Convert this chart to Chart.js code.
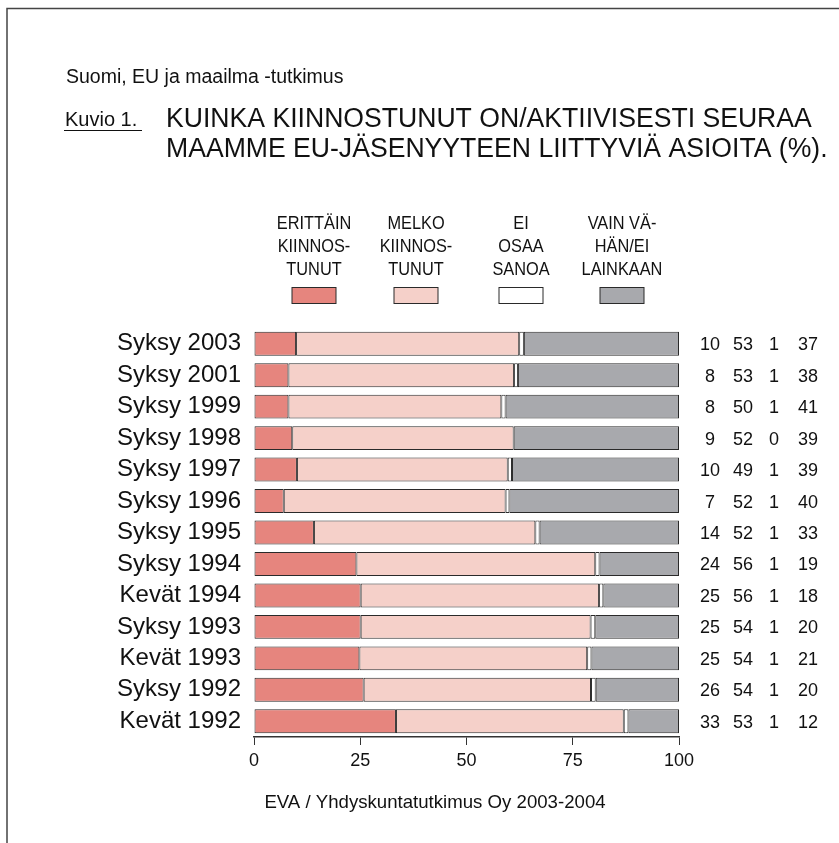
<!DOCTYPE html>
<html>
<head>
<meta charset="utf-8">
<script src="https://cdn.jsdelivr.net/npm/chart.js@4"></script>
<style>
  html, body { margin: 0; padding: 0; background: #fff; }
  canvas { display: block; }
</style>
</head>
<body>
<canvas id="ctx" width="839" height="843"></canvas>
<script>
// rivit ylhäältä alas
const categories = ['Syksy 2003', 'Syksy 2001', 'Syksy 1999', 'Syksy 1998', 'Syksy 1997', 'Syksy 1996',
  'Syksy 1995', 'Syksy 1994', 'Kevät 1994', 'Syksy 1993', 'Kevät 1993', 'Syksy 1992', 'Kevät 1992'];

// palkkien pituudet (luettu kuvasta, pyöristämättömät)
const veryInterested   = [9.9, 8.1, 8.1, 9.0, 10.1, 7.0, 14.1, 24.1, 25.1, 25.1, 24.8, 25.8, 33.4];
const fairlyInterested = [52.5, 53.1, 50.1, 52.1, 49.6, 52.2, 52.1, 56.2, 56.1, 54.1, 53.6, 53.5, 53.6];
const cantSay          = [1.1, 0.9, 1.0, 0.0, 1.0, 0.9, 1.0, 1.0, 1.0, 1.1, 1.0, 1.1, 1.1];
const littleOrNot      = [36.5, 37.9, 40.8, 38.9, 39.3, 39.9, 32.8, 18.7, 17.8, 19.7, 20.6, 19.6, 11.9];

// oikean reunan numerot
const printedVery   = [10, 8, 8, 9, 10, 7, 14, 24, 25, 25, 25, 26, 33];
const printedFairly = [53, 53, 50, 52, 49, 52, 52, 56, 56, 54, 54, 54, 53];
const printedCant   = [1, 1, 1, 0, 1, 1, 1, 1, 1, 1, 1, 1, 1];
const printedLittle = [37, 38, 41, 39, 39, 40, 33, 19, 18, 20, 21, 20, 12];

const xTicks = [0, 25, 50, 75, 100];

const legendLines = [
  ['ERITTÄIN', 'KIINNOS-', 'TUNUT'],
  ['MELKO', 'KIINNOS-', 'TUNUT'],
  ['EI', 'OSAA', 'SANOA'],
  ['VAIN VÄ-', 'HÄN/EI', 'LAINKAAN']
];

const subtitle = 'Suomi, EU ja maailma -tutkimus';
const figLabel = 'Kuvio 1.';
const titleLines = ['KUINKA KIINNOSTUNUT ON/AKTIIVISESTI SEURAA', 'MAAMME EU-JÄSENYYTEEN LIITTYVIÄ ASIOITA (%).'];
const source = 'EVA / Yhdyskuntatutkimus Oy 2003-2004';

const FONT = '"Liberation Sans", Arial, Helvetica, sans-serif';
const INK = '#111';
const EDGE = '#2a2a2a';

// teksti kavennettuna (sx < 1)
function drawText(c, text, x, y, size, align, sx) {
  c.save();
  c.translate(x, y);
  c.scale(sx || 1, 1);
  c.font = size + 'px ' + FONT;
  c.textAlign = align;
  c.textBaseline = 'alphabetic';
  c.fillStyle = INK;
  c.fillText(text, 0, 0);
  c.restore();
}

const decorations = {
  id: 'decorations',
  afterDraw(chart) {
    const c = chart.ctx;

    // kehys
    c.save();
    c.strokeStyle = '#444';
    c.lineWidth = 1.5;
    c.beginPath();
    c.moveTo(7, 843);
    c.lineTo(7, 8.5);
    c.lineTo(839, 8.5);
    c.stroke();
    c.restore();

    drawText(c, subtitle, 66, 83, 19.5, 'left', 1);

    drawText(c, figLabel, 65, 126, 20, 'left', 1);
    c.save();
    c.strokeStyle = INK;
    c.lineWidth = 1;
    c.beginPath();
    c.moveTo(64, 130.5);
    c.lineTo(142, 130.5);
    c.stroke();
    c.restore();

    drawText(c, titleLines[0], 166, 127, 27, 'left', 0.985);
    drawText(c, titleLines[1], 166, 157, 27, 'left', 0.985);

    // selite
    const centers = [314, 416, 521, 622];
    chart.data.datasets.forEach((ds, i) => {
      legendLines[i].forEach((line, j) => {
        drawText(c, line, centers[i], 229 + j * 23, 19, 'center', 0.86);
      });
      c.save();
      c.fillStyle = ds.backgroundColor;
      c.strokeStyle = EDGE;
      c.lineWidth = 1;
      c.fillRect(centers[i] - 22, 287.5, 44, 16);
      c.strokeRect(centers[i] - 22, 287.5, 44, 16);
      c.restore();
    });

    // numerosarakkeet
    const yScale = chart.scales.y;
    const cols = [
      [printedVery, 710], [printedFairly, 743], [printedCant, 774], [printedLittle, 808]
    ];
    categories.forEach((cat, i) => {
      const y = yScale.getPixelForValue(i) + 6.5;
      cols.forEach(([arr, x]) => drawText(c, String(arr[i]), x, y, 18, 'center', 1));
    });

    drawText(c, source, 435, 808, 19, 'center', 0.98);
  }
};

const mkSet = (label, data, color) => ({
  label, data,
  backgroundColor: color,
  borderColor: EDGE,
  borderWidth: 1,
  borderSkipped: false,
  barPercentage: 0.76,
  categoryPercentage: 1
});

new Chart(document.getElementById('ctx'), {
  type: 'bar',
  data: {
    labels: categories,
    datasets: [
      mkSet('Erittäin kiinnostunut', veryInterested, '#e6857e'),
      mkSet('Melko kiinnostunut', fairlyInterested, '#f5d0c9'),
      mkSet('Ei osaa sanoa', cantSay, '#ffffff'),
      mkSet('Vain vähän/ei lainkaan', littleOrNot, '#a8a9ad')
    ]
  },
  options: {
    indexAxis: 'y',
    responsive: false,
    animation: false,
    layout: { padding: { left: 0, top: 328, right: 160, bottom: 66 } },
    scales: {
      x: {
        stacked: true,
        min: 0,
        max: 100,
        afterBuildTicks: (scale) => { scale.ticks = xTicks.map(v => ({ value: v })); },
        afterFit: (scale) => { scale.height = 40; },
        grid: { display: true, drawOnChartArea: false, drawTicks: true, tickLength: 8, color: '#333', lineWidth: 1 },
        border: { display: true, color: '#333', width: 1.5 },
        ticks: { color: INK, font: { family: FONT, size: 18 }, padding: 5, maxRotation: 0 }
      },
      y: {
        stacked: true,
        afterFit: (scale) => { scale.width = 254; },
        grid: { display: false, drawTicks: false },
        border: { display: false },
        ticks: { color: INK, font: { family: FONT, size: 24 }, padding: 13, autoSkip: false }
      }
    },
    plugins: {
      legend: { display: false },
      tooltip: { enabled: false }
    }
  },
  plugins: [decorations]
});
</script>
</body>
</html>
